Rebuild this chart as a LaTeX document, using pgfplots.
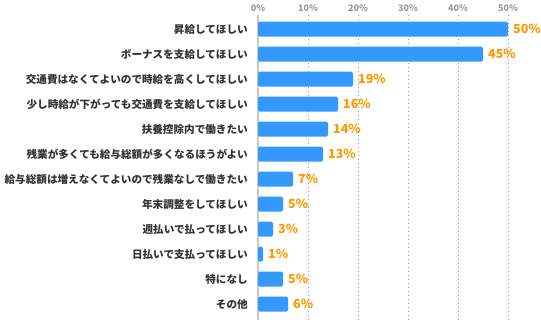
\documentclass[border=0pt]{standalone}
\usepackage{pgfplots}
\pgfplotsset{compat=1.18}
\usepackage{fontspec}
\setmainfont{Noto Sans CJK JP}
\definecolor{barblue}{HTML}{3399FF}
\definecolor{valorange}{HTML}{FF9900}
\definecolor{lblgray}{HTML}{333333}
\definecolor{tickgray}{HTML}{999999}
\definecolor{axgray}{HTML}{C8C8C8}
\begin{document}
\begin{tikzpicture}
\path[use as bounding box] (0,0) rectangle (541pt,322pt);
\begin{axis}[at={(258pt,2pt)}, anchor=south west, scale only axis,
  width=250pt, height=305pt,
  /pgf/number format/assume math mode=true,
  xbar, bar width=15pt,
  xmin=0, xmax=50, ymin=-0.56, ymax=11.64, y dir=reverse,
  axis line style={draw=none}, major tick length=0pt,
  xtick={10,20,30,40,50}, xticklabel pos=upper,
  xticklabel={\pgfmathprintnumber{\tick}\%},
  xticklabel style={font=\bfseries\fontsize{9}{9}\selectfont, text=tickgray},
  extra x ticks={0}, extra x tick labels={0\%},
  extra x tick style={grid style={solid, draw=axgray, line width=2pt}},
  xmajorgrids, grid style={tickgray, dash pattern=on 1pt off 3pt, line width=1pt},
  ytick={0,...,11},
  yticklabels={昇給してほしい, ボーナスを支給してほしい, 交通費はなくてよいので時給を高くしてほしい, 少し時給が下がっても交通費を支給してほしい, 扶養控除内で働きたい, 残業が多くても給与総額が多くなるほうがよい, 給与総額は増えなくてよいので残業なしで働きたい, 年末調整をしてほしい, 週払いで払ってほしい, 日払いで支払ってほしい, 特になし, その他},
  yticklabel style={font=\bfseries\fontsize{10.6}{12}\selectfont, text=lblgray, inner sep=0pt, xshift=-10pt},
  clip=false,
  point meta=x,
  nodes near coords={\pgfmathprintnumber{\pgfplotspointmeta}\%},
  nodes near coords style={font=\bfseries\fontsize{12.5}{13}\selectfont, text=valorange, anchor=west, inner sep=0pt, xshift=5pt},
]
\addplot[fill=barblue, draw=none, rounded corners=1.5pt] coordinates {
(50,0) (45,1) (19,2) (16,3) (14,4) (13,5) (7,6) (5,7) (3,8) (1,9) (5,10) (6,11)};
\end{axis}
\end{tikzpicture}
\end{document}
